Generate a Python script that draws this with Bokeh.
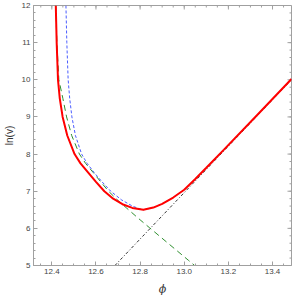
from bokeh.plotting import figure
from bokeh.models import Range1d, FixedTicker, PrintfTickFormatter
from bokeh.embed import file_html
from bokeh.resources import INLINE
import math

# full potential (red)
red_phi = [12.418, 12.420, 12.422, 12.425, 12.428, 12.436, 12.449, 12.470, 12.503, 12.530,
           12.565, 12.600, 12.638, 12.678, 12.720, 12.765, 12.815, 12.860, 12.900, 12.950,
           13.000, 13.050, 13.100, 13.180, 13.335, 13.486]
red_lnv = [12.0, 11.5, 11.0, 10.5, 10.0, 9.5, 9.0, 8.5, 8.0, 7.75,
           7.5, 7.25, 7.0, 6.8, 6.65, 6.55, 6.50, 6.56, 6.66, 6.83,
           7.04, 7.33, 7.63, 8.12, 9.08, 10.02]

# approximation (blue dashed)
blue_phi = [12.464, 12.468, 12.474, 12.481, 12.491, 12.507, 12.535, 12.560, 12.592, 12.628,
            12.667, 12.715, 12.765, 12.800, 12.815, 12.860, 12.900, 12.950, 13.000, 13.050,
            13.100, 13.180, 13.335, 13.486]
blue_lnv = [12.0, 11.0, 10.0, 9.5, 9.0, 8.5, 8.0, 7.75, 7.5, 7.25,
            7.0, 6.77, 6.60, 6.52, 6.50, 6.56, 6.66, 6.83, 7.04, 7.33,
            7.63, 8.12, 9.08, 10.02]

# decreasing branch (green long dash)
green_phi = [12.418, 12.423, 12.432, 12.450, 12.467, 12.490, 12.525, 12.553, 12.588, 12.622,
             12.657, 12.700, 12.740, 12.800, 12.844, 13.019, 13.047]
green_lnv = [12.0, 11.0, 10.0, 9.5, 9.0, 8.5, 8.0, 7.75, 7.5, 7.25,
             7.0, 6.75, 6.54, 6.23, 6.01, 5.14, 5.0]

# increasing branch (black dot-dash)
black_phi = [12.686, 13.486]
black_lnv = [5.0, 10.0]

x_major = [12.4, 12.6, 12.8, 13.0, 13.2, 13.4]
x_minor = [round(12.35 + 0.05 * i, 2) for i in range(23)]
y_major = [5, 6, 7, 8, 9, 10, 11, 12]
y_minor = [round(5 + 0.2 * i, 1) for i in range(36)]

X0, X1, Y0, Y1 = 12.317, 13.486, 5.0, 12.0

p = figure(width=292, height=298, x_range=Range1d(X0, X1), y_range=Range1d(Y0, Y1),
           output_backend="svg", toolbar_location=None,
           min_border_left=28, min_border_right=1, min_border_top=5, min_border_bottom=30)
# place the figure at the window's top-left corner, as in the reference
p.styles = {"position": "absolute", "left": "0px", "top": "0px"}
p.background_fill_color = "white"
p.border_fill_color = "white"
frame_col = "#a0a0a0"
p.outline_line_color = frame_col
p.xgrid.visible = False
p.ygrid.visible = False

def style(ax):
    ax.axis_line_color = frame_col
    ax.major_tick_line_color = frame_col
    ax.minor_tick_line_color = frame_col
    ax.major_tick_in = 4
    ax.major_tick_out = 0
    ax.minor_tick_in = 2
    ax.minor_tick_out = 0
    ax.major_label_text_font = "Liberation Sans"
    ax.major_label_text_font_size = "8px"
    ax.major_label_text_color = "#444444"
    ax.major_label_standoff = 3

p.xaxis.ticker = FixedTicker(ticks=x_major, minor_ticks=x_minor)
p.yaxis.ticker = FixedTicker(ticks=y_major, minor_ticks=y_minor)
p.xaxis.formatter = PrintfTickFormatter(format="%.1f")
style(p.xaxis[0])
style(p.yaxis[0])
p.xaxis.axis_label = "ϕ"
p.xaxis.axis_label_text_font = "DejaVu Serif"
p.xaxis.axis_label_text_font_style = "italic"
p.xaxis.axis_label_text_font_size = "11px"
p.xaxis.axis_label_text_color = "#333333"
p.xaxis.axis_label_standoff = 6
p.yaxis.axis_label = "ln(v)"
p.yaxis.axis_label_text_font = "Liberation Sans"
p.yaxis.axis_label_text_font_style = "normal"
p.yaxis.axis_label_text_font_size = "10px"
p.yaxis.axis_label_text_color = "#333333"
p.yaxis.axis_label_standoff = 4

# inward ticks on the top and right frame edges
p.ray(x=x_major, y=[Y1] * len(x_major), length=4, angle=-math.pi / 2,
      length_units="screen", line_color=frame_col, line_width=1)
p.ray(x=x_minor, y=[Y1] * len(x_minor), length=2, angle=-math.pi / 2,
      length_units="screen", line_color=frame_col, line_width=1)
p.ray(x=[X1] * len(y_major), y=y_major, length=4, angle=math.pi,
      length_units="screen", line_color=frame_col, line_width=1)
p.ray(x=[X1] * len(y_minor), y=y_minor, length=2, angle=math.pi,
      length_units="screen", line_color=frame_col, line_width=1)

p.line(black_phi, black_lnv, line_color="#333333", line_width=1, line_dash="3 2 1 2")
p.line(green_phi, green_lnv, line_color="#2f8f2f", line_width=1, line_dash="6 4")
p.line(blue_phi, blue_lnv, line_color="#4a5cff", line_width=1, line_dash="3 2")
p.line(red_phi, red_lnv, line_color="#ff0000", line_width=2)

open("out.html", "w").write(file_html(p, INLINE))
